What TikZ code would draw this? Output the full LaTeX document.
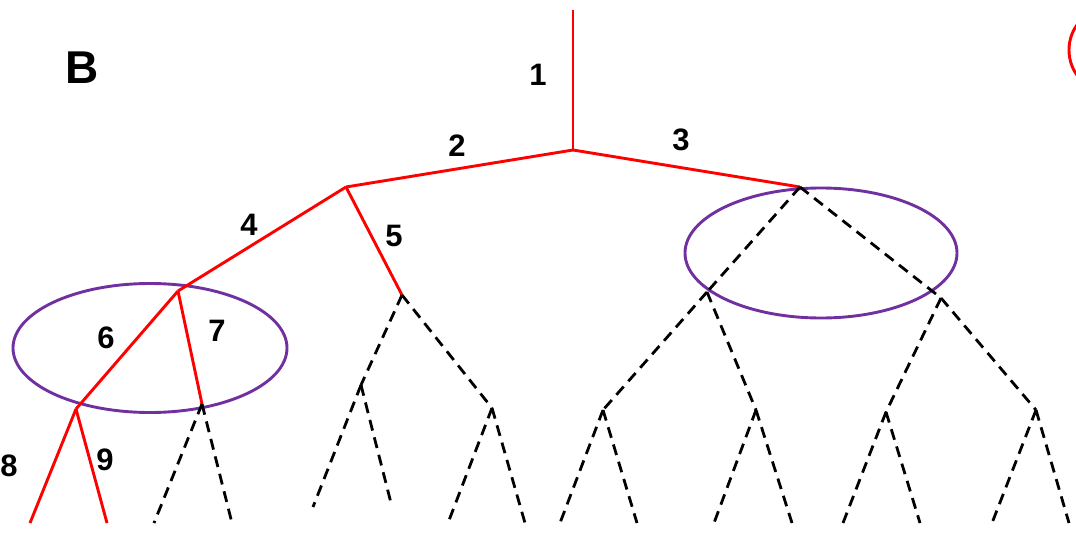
\documentclass[tikz,border=0pt]{standalone}
\usepackage{fontspec}
\setmainfont{Liberation Sans}
\usetikzlibrary{shapes.geometric}
\definecolor{tred}{RGB}{255,0,0}
\definecolor{tpurple}{RGB}{112,48,160}
\begin{document}
\begin{tikzpicture}[x=1pt,y=-1pt,
  redline/.style={draw=tred,line width=2.9pt},
  dashline/.style={draw=black,line width=2.8pt,dash pattern=on 11pt off 7pt},
  ring/.style={draw=tpurple,line width=2.9pt,ellipse,inner sep=0pt},
  num/.style={font=\fontsize{31}{31}\selectfont\bfseries,inner sep=0pt}]
\useasboundingbox (0,0) rectangle (1076,535);
\clip (0,0) rectangle (1076,535);
% tree vertices
\coordinate (top) at (573,10);
\coordinate (A) at (573,150);
\coordinate (B) at (346,187);
\coordinate (C) at (800,187);
\coordinate (D) at (178,291);
\coordinate (E) at (402,295);
\coordinate (F) at (76,409);
\coordinate (G) at (202,404);
\coordinate (F1) at (30,523);
\coordinate (F2) at (107,523);
\coordinate (G1) at (154,523);
\coordinate (G2) at (232,523);
\coordinate (H) at (361,385);
\coordinate (I) at (492,408);
\coordinate (H1) at (313,507);
\coordinate (H2) at (392,507);
\coordinate (I1) at (448,523);
\coordinate (I2) at (525,523);
\coordinate (J) at (707,292);
\coordinate (K) at (941,298);
\coordinate (L) at (603,410);
\coordinate (M) at (756,410);
\coordinate (N) at (886,412);
\coordinate (O) at (1036,410);
\coordinate (L1) at (560,523);
\coordinate (L2) at (637,523);
\coordinate (M1) at (714,523);
\coordinate (M2) at (792,523);
\coordinate (N1) at (843,523);
\coordinate (N2) at (920,523);
\coordinate (O1) at (992,523);
\coordinate (O2) at (1069,523);
% ellipses
\node[ring,minimum width=274pt,minimum height=129pt] (e1) at (150,348) {};
\node[ring,minimum width=272pt,minimum height=130pt] (e2) at (821,253) {};
\node[draw=tred,line width=2.9pt,ellipse,inner sep=0pt,minimum width=72pt,minimum height=80pt] (e3) at (1105,50) {};
% red path
\draw[redline] (top) -- (A);
\draw[redline] (A) -- (B);
\draw[redline] (A) -- (C);
\draw[redline] (B) -- (D);
\draw[redline] (B) -- (E);
\draw[redline] (D) -- (F);
\draw[redline] (D) -- (G);
\draw[redline] (F) -- (F1);
\draw[redline] (F) -- (F2);
% dashed subtrees
\draw[dashline] (G) -- (G1);
\draw[dashline] (G) -- (G2);
\draw[dashline] (E) -- (H);
\draw[dashline] (E) -- (I);
\draw[dashline] (H) -- (H1);
\draw[dashline] (H) -- (H2);
\draw[dashline] (I) -- (I1);
\draw[dashline] (I) -- (I2);
\draw[dashline] (C) -- (J);
\draw[dashline] (J) -- (L);
\draw[dashline] (J) -- (M);
\draw[dashline] (C) -- (K);
\draw[dashline] (K) -- (N);
\draw[dashline] (K) -- (O);
\draw[dashline] (L) -- (L1);
\draw[dashline] (L) -- (L2);
\draw[dashline] (M) -- (M1);
\draw[dashline] (M) -- (M2);
\draw[dashline] (N) -- (N1);
\draw[dashline] (N) -- (N2);
\draw[dashline] (O) -- (O1);
\draw[dashline] (O) -- (O2);
% labels
\node[font=\fontsize{46}{46}\selectfont\bfseries,inner sep=0pt] (lB) at (82,68) {B};
\node[num] (l1) at (538,75) {1};
\node[num] (l2) at (457,146) {2};
\node[num] (l3) at (681,140) {3};
\node[num] (l4) at (249,225) {4};
\node[num] (l5) at (394,236) {5};
\node[num] (l6) at (106,338) {6};
\node[num] (l7) at (217,331) {7};
\node[num] (l8) at (9,466) {8};
\node[num] (l9) at (105,460) {9};
\end{tikzpicture}
\end{document}
